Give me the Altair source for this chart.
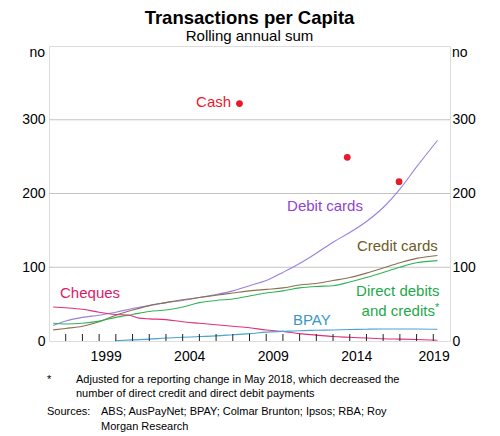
import altair as alt
import pandas as pd

F = "Liberation Sans"

# ---- data ----
debit_years = [1996.25, 1997, 1998, 1999, 2000, 2001, 2002, 2003, 2004, 2005, 2006, 2007,
               2008, 2009, 2010, 2011, 2012, 2013, 2014, 2015, 2016, 2017, 2018, 2019.25]
debit_vals = [21, 27, 32, 35, 39, 44, 48, 52, 55, 59, 63, 68,
              75, 82, 93, 105, 119, 134, 147, 162, 181, 206, 236, 272]

credit_years = [1996.25, 1997, 1998, 1999, 2000, 2001, 2002, 2003, 2004, 2005, 2006, 2007,
                2008, 2009, 2010, 2011, 2012, 2013, 2014, 2015, 2016, 2017, 2018, 2019.25]
credit_vals = [15, 17, 20, 26, 35, 42, 48, 52, 56, 59, 62, 65,
               68, 70, 72, 76, 78, 82, 86, 92, 99, 106, 112, 116]

direct_years = [1996.25, 1997, 1998, 1999, 2000, 2001, 2002, 2003, 2004, 2005, 2006, 2007,
                2008, 2009, 2010, 2011, 2012, 2013, 2014, 2015, 2016, 2017, 2018, 2019.25]
direct_vals = [24, 23, 24, 27, 32, 36, 40, 42, 46, 52, 55, 57,
               61, 65, 68, 72, 74, 75, 80, 86, 93, 100, 106, 109]

cheque_years = [1996.25, 1997, 1998, 1999, 2000, 2000.8, 2001.4, 2002, 2003, 2004, 2005, 2006,
                2007, 2008, 2009, 2010, 2011, 2012, 2013, 2014, 2015, 2016, 2017, 2018, 2019.25]
cheque_vals = [46, 45, 43, 39, 36, 35, 31, 30, 29, 26, 24, 22,
               20, 18, 15, 13, 10, 8, 6, 5, 4, 3, 2.5, 2, 1]

bpay_years = [1999.95, 2001, 2002, 2003, 2004, 2005, 2006, 2007, 2008, 2009, 2010,
              2011, 2012, 2013, 2014, 2015, 2016, 2017, 2018, 2019.25]
bpay_vals = [0.3, 1.5, 2.5, 4, 5, 6, 7, 8.5, 10, 12, 13,
             14, 14.5, 15, 15.5, 16, 16.3, 16.3, 16.3, 16]

cash_years = [2007.4, 2013.85, 2016.95]
cash_vals = [322, 249, 216]

series_names = ["Debit cards", "Credit cards", "Direct debits and credits", "Cheques", "BPAY"]
series_colors = ["#9b80e0", "#8a7050", "#2fb457", "#e0307a", "#4aa3d0"]

grid_vals = [100, 200, 300]
year_ticks = list(range(1997, 2020))
x_label_pos = [1999.42, 2004.42, 2009.42, 2014.42, 2019.05]
x_label_text = ["1999", "2004", "2009", "2014", "2019"]

label_left_text = ["Debit cards", "Credit cards", "BPAY", "Cheques"]
label_left_x = [2010.25, 2014.43, 2010.6, 1996.66]
label_left_y = [183, 129.4, 28.6, 65]
label_left_col = ["#8e44d0", "#6b5c1e", "#3a96c8", "#d81b6a"]

label_right_text = ["Cash", "Direct debits", "and credits"]
label_right_x = [2006.9, 2019.37, 2019.1]
label_right_y = [324, 67.3, 41]
label_right_col = ["#e8192c", "#1ea84a", "#1ea84a"]

# ---- build tables ----
rows = []
for name, xs_, ys_ in [("Debit cards", debit_years, debit_vals),
                       ("Credit cards", credit_years, credit_vals),
                       ("Direct debits and credits", direct_years, direct_vals),
                       ("Cheques", cheque_years, cheque_vals),
                       ("BPAY", bpay_years, bpay_vals)]:
    for x, y in zip(xs_, ys_):
        rows.append({"series": name, "year": x, "value": y})
df = pd.DataFrame(rows)
cash_df = pd.DataFrame({"year": cash_years, "value": cash_vals})
grid_df = pd.DataFrame({"g": grid_vals})
tick_df = pd.DataFrame({"t": year_ticks})
xlab_df = pd.DataFrame({"x": x_label_pos, "t": x_label_text})
lab_l = pd.DataFrame({"t": label_left_text, "x": label_left_x, "y": label_left_y, "c": label_left_col})
lab_r = pd.DataFrame({"t": label_right_text, "x": label_right_x, "y": label_right_y, "c": label_right_col})

xs = alt.Scale(domain=[1996, 2020], nice=False, zero=False)
ys = alt.Scale(domain=[0, 400], nice=False, zero=True)


def yaxis(orient, pad):
    return alt.Axis(orient=orient, values=[0, 100, 200, 300], ticks=False, domain=False, grid=False,
                    labelFontSize=14, labelFont=F, labelColor="black", labelPadding=pad, title=None,
                    labelBaseline="middle")


grid = alt.Chart(grid_df).mark_rule(color="#c4c4c4", strokeWidth=1).encode(
    y=alt.Y("g:Q", scale=ys, axis=yaxis("right", 2))
)

lines = alt.Chart(df).mark_line(strokeWidth=1.1, interpolate="monotone").encode(
    x=alt.X("year:Q", scale=xs, axis=None),
    y=alt.Y("value:Q", scale=ys, axis=yaxis("left", 4)),
    color=alt.Color("series:N", scale=alt.Scale(domain=series_names, range=series_colors), legend=None),
)

ticks = alt.Chart(tick_df).mark_rule(color="#222222", strokeWidth=1).encode(
    x=alt.X("t:Q", scale=xs, axis=None), y=alt.value(288), y2=alt.value(295)
)

xlabels = alt.Chart(xlab_df).mark_text(align="center", baseline="middle", fontSize=14, font=F,
                                       color="black").encode(
    x=alt.X("x:Q", scale=xs, axis=None), y=alt.value(311), text="t:N"
)

cash = alt.Chart(cash_df).mark_circle(size=46, color="#e8192c", opacity=1).encode(
    x=alt.X("year:Q", scale=xs, axis=None), y=alt.Y("value:Q", scale=ys, axis=None)
)

txt_l = alt.Chart(lab_l).mark_text(align="left", baseline="middle", fontSize=15, font=F).encode(
    x=alt.X("x:Q", scale=xs, axis=None), y=alt.Y("y:Q", scale=ys, axis=None), text="t:N",
    color=alt.Color("c:N", scale=None),
)
txt_r = alt.Chart(lab_r).mark_text(align="right", baseline="middle", fontSize=15, font=F).encode(
    x=alt.X("x:Q", scale=xs, axis=None), y=alt.Y("y:Q", scale=ys, axis=None), text="t:N",
    color=alt.Color("c:N", scale=None),
)


def label(text, x, y, size=11, align="left", color="black"):
    return alt.Chart(pd.DataFrame({"t": [text]})).mark_text(
        align=align, baseline="middle", fontSize=size, font=F, color=color
    ).encode(text="t:N", x=alt.value(x), y=alt.value(y))


star = label("*", 386, 262, size=11, color="#1ea84a")
no_l = label("no", -4, 7, size=14, align="right")
no_r = label("no", 403, 7, size=14)
f1 = label("*", -2, 334)
f2 = label("Adjusted for a reporting change in May 2018, which decreased the", 27, 334)
f3 = label("number of direct credit and direct debit payments", 27, 348.3)
f4 = label("Sources:", -2, 366.3)
f5 = label("ABS; AusPayNet; BPAY; Colmar Brunton; Ipsos; RBA; Roy", 52, 366.3)
f6 = label("Morgan Research", 52, 380.7)

chart = alt.layer(
    grid, lines, ticks, xlabels, cash, txt_l, txt_r, star, no_l, no_r, f1, f2, f3, f4, f5, f6
).resolve_axis(y="independent").properties(
    width=401, height=295,
    autosize="none",
    padding={"left": 41, "top": 38, "right": 42, "bottom": 95},
    title=alt.TitleParams("Transactions per Capita", subtitle="Rolling annual sum", fontSize=18.5,
                          font=F, fontWeight="bold", color="black", subtitleFont=F,
                          subtitleFontSize=15, subtitleColor="black", anchor="middle",
                          offset=2.5, subtitlePadding=1.5, frame="group"),
).configure_view(stroke="#333333", strokeWidth=1).configure(background="white")

chart.save("out.html", embed_options={"renderer": "svg", "actions": False})
